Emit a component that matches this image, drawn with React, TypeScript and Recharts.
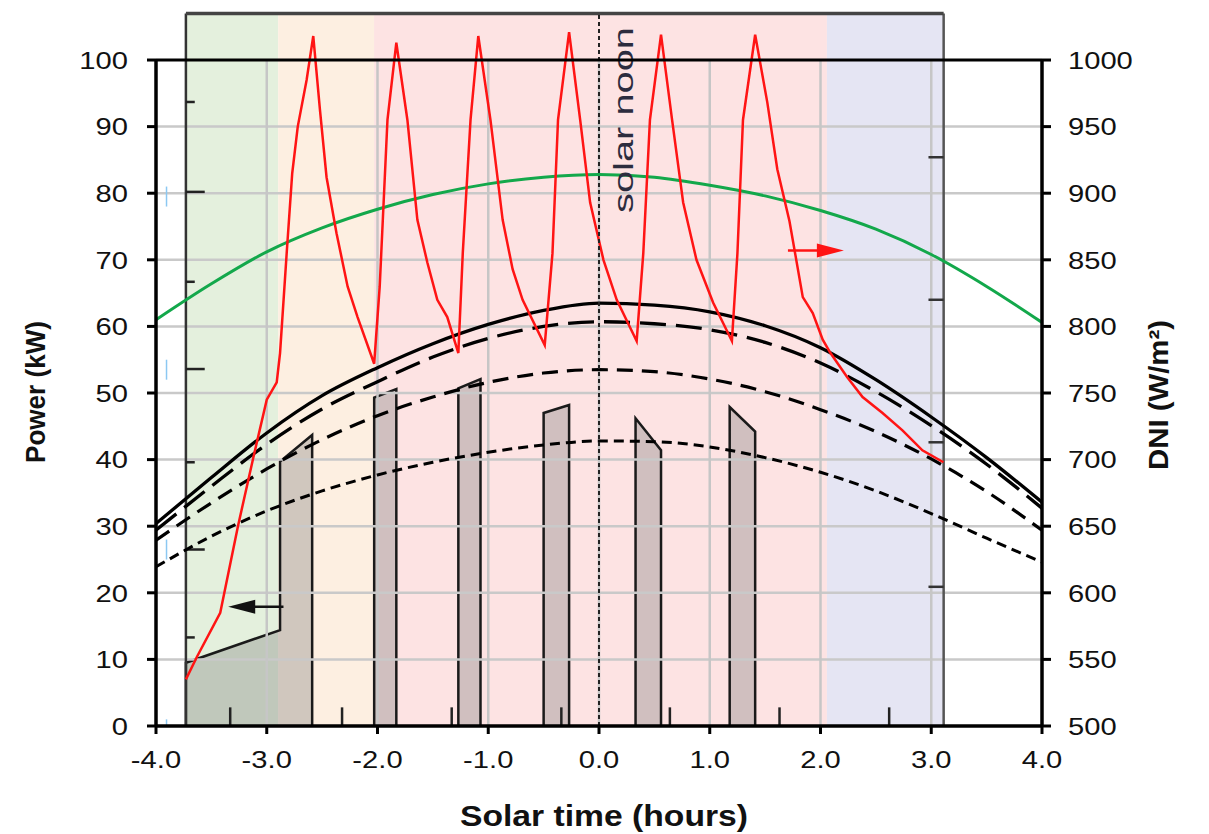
import React from "react";
import {
  ComposedChart,
  Line,
  Area,
  XAxis,
  YAxis,
  ReferenceArea,
  ReferenceLine,
  ReferenceDot,
} from "recharts";

const FONT = "'Liberation Sans', Arial, Helvetica, sans-serif";

// axis ticks
const hourTicks = [-4, -3, -2, -1, 0, 1, 2, 3, 4];
const kwTicks = [0, 10, 20, 30, 40, 50, 60, 70, 80, 90, 100];
const dniTicks = [500, 550, 600, 650, 700, 750, 800, 850, 900, 950, 1000];

// modelled power curves (kW), every half hour
const curveHours = [-4, -3.5, -3, -2.5, -2, -1.5, -1, -0.5, 0, 0.5, 1, 1.5, 2, 2.5, 3, 3.5, 4];
const powerSolid = [30.4, 37.3, 44.0, 49.6, 53.8, 57.4, 60.3, 62.4, 63.5, 63.2, 62.2, 60.1, 56.8, 52.0, 46.4, 40.3, 33.6];
const powerLongDash = [29.4, 36.0, 42.3, 47.6, 51.7, 55.4, 58.2, 60.0, 60.7, 60.4, 59.5, 57.6, 54.5, 50.2, 45.1, 39.3, 32.7];
const powerMidDash = [27.9, 33.5, 38.6, 43.0, 46.6, 49.4, 51.6, 53.0, 53.5, 53.2, 52.1, 50.2, 47.5, 44.2, 40.1, 35.2, 29.4];
const powerShortDash = [23.9, 28.5, 32.3, 35.3, 37.7, 39.6, 41.1, 42.2, 42.8, 42.7, 41.9, 40.3, 38.1, 35.3, 31.9, 28.2, 24.6];

// clear sky DNI (green)
const clearDni = [805, 832, 856, 874, 888, 899, 907, 912, 914, 912, 906, 898, 887, 873, 854, 830, 803];

// measured DNI (red)
const dniHours = [
  -3.73, -3.63, -3.42, -3.26, -3.12, -3.0, -2.91, -2.88, -2.82, -2.77, -2.72, -2.64, -2.58, -2.52, -2.46, -2.37, -2.27, -2.18, -2.03,
  -1.98, -1.91, -1.83, -1.73, -1.64, -1.55, -1.46, -1.37, -1.27, -1.23, -1.16, -1.09, -0.98, -0.87, -0.78, -0.69, -0.49,
  -0.42, -0.37, -0.27, -0.17, -0.08, 0.04, 0.16, 0.34, 0.4, 0.46, 0.56, 0.66, 0.76, 0.88, 1.03, 1.2,
  1.25, 1.3, 1.41, 1.52, 1.61, 1.72, 1.84, 1.93, 2.02, 2.09, 2.24, 2.38, 2.56, 2.74, 2.92, 3.11,
];
const dniValues = [
  535, 552, 585, 650, 702, 745, 758, 780, 855, 915, 950, 985, 1018, 963, 912, 870, 830, 807, 772,
  830, 955, 1013, 955, 880, 848, 820, 807, 780, 855, 955, 1018, 955, 880, 843, 820, 786,
  855, 955, 1021, 955, 893, 850, 820, 789, 855, 955, 1019, 955, 893, 850, 818, 789,
  855, 955, 1019, 968, 918, 879, 822, 810, 790, 780, 762, 747, 735, 722, 707, 698,
];

// produced power pulses (corners, hour / kW)
const pulses = [
  { hours: [-3.73, -3.73, -2.88, -2.88, -2.59, -2.59], kw: [0, 9.5, 14.4, 39.7, 43.7, 0] },
  { hours: [-2.03, -2.03, -1.83, -1.83], kw: [0, 49.3, 50.6, 0] },
  { hours: [-1.27, -1.27, -1.07, -1.07], kw: [0, 50.7, 52.1, 0] },
  { hours: [-0.5, -0.5, -0.27, -0.27], kw: [0, 47.0, 48.2, 0] },
  { hours: [0.33, 0.33, 0.56, 0.56], kw: [0, 46.2, 41.4, 0] },
  { hours: [1.18, 1.18, 1.41, 1.41], kw: [0, 47.9, 44.2, 0] },
];

// background bands of the inner picture
const bandFrom = [-3.73, -2.897, -2.031, 2.058];
const bandTo = [-2.897, -2.031, 2.058, 3.112];
const bandColors = ["#e4f0dd", "#fdefe1", "#fde3e3", "#e5e5f3"];

// inner picture ticks
const innerLeftKw = [93.7, 80.2, 66.7, 53.6, 39.6, 26.5, 13.3];
const innerBottomHours = [-3.33, -2.32, -1.33, -0.34, 0.64, 1.63, 2.62];
const innerRightKw = [85.4, 64.0, 42.6, 20.9];
const blueMarks = [[78, 81], [52, 55], [25, 28], [0, 1]];

const zip = (xs: number[], ys: number[], key: string) => xs.map((t, i) => ({ t, [key]: ys[i] }));

const CW: Record<string, number> = { "-": 0.333, ".": 0.278 };
const textWidth = (s: string) => s.split("").reduce((a, c) => a + (CW[c] ?? 0.556), 0);
const TICK_FS = 24.5;

const makeTick = (fmt: (v: number) => string, dy: string) => (props: any) => {
  const { x, y, payload, textAnchor } = props;
  const s = fmt(payload.value);
  return (
    <text
      x={x}
      y={y}
      dy={dy}
      textAnchor={textAnchor}
      fontFamily={FONT}
      fontSize={TICK_FS}
      fill="#111"
      textLength={textWidth(s) * TICK_FS * 1.19}
      lengthAdjust="spacingAndGlyphs"
    >
      {s}
    </text>
  );
};

const xTick = makeTick((v) => v.toFixed(1), "0.72em");
const yTick = makeTick((v) => String(v), "0.36em");

const arrowHead = (dir: number, color: string) => (p: any) => {
  const { cx, cy } = p;
  return (
    <polygon
      points={`${cx},${cy} ${cx - dir * 27},${cy - 7} ${cx - dir * 27},${cy + 7}`}
      fill={color}
    />
  );
};

const XTitle = () => (
  <text x={604} y={826} textAnchor="middle" fontFamily={FONT} fontWeight="bold" fontSize={30} fill="#111"
    textLength={288} lengthAdjust="spacingAndGlyphs">
    Solar time (hours)
  </text>
);
const KwTitle = () => (
  <text x={45} y={392} transform="rotate(-90 45 392)" textAnchor="middle" fontFamily={FONT} fontWeight="bold"
    fontSize={27} fill="#111" textLength={142} lengthAdjust="spacingAndGlyphs">
    Power (kW)
  </text>
);
const DniTitle = () => (
  <text x={1168} y={395} transform="rotate(-90 1168 395)" textAnchor="middle" fontFamily={FONT} fontWeight="bold"
    fontSize={27} fill="#111" textLength={150} lengthAdjust="spacingAndGlyphs">
    DNI (W/m²)
  </text>
);
const NoonText = (p: any) => {
  const x = (p.viewBox?.x ?? 599) + 34;
  return (
    <text x={x} y={120} transform={`rotate(-90 ${x} 120)`} textAnchor="middle" fontFamily={FONT}
      fontSize={28} fill="#2c2c3e" textLength={186} lengthAdjust="spacingAndGlyphs">
      solar noon
    </text>
  );
};

const curves = [
  { key: "solid", values: powerSolid, dash: undefined, width: 3.3 },
  { key: "long", values: powerLongDash, dash: "26 10", width: 3.3 },
  { key: "mid", values: powerMidDash, dash: "16 9", width: 3.2 },
  { key: "short", values: powerShortDash, dash: "10 6", width: 3 },
];

export default function App() {
  return (
    <div style={{ position: "absolute", left: 0, top: 0, width: 1209, height: 834, background: "#fff" }}>
      <ComposedChart width={1209} height={834} margin={{ top: 13.4, right: 0, bottom: 8, left: 0 }}>
        {bandFrom.map((x1, i) => (
          <ReferenceArea key={`band${i}`} yAxisId="kw" x1={x1} x2={bandTo[i]} y1={0} y2={107}
            fill={bandColors[i]} fillOpacity={1} stroke="none" zIndex={-300} />
        ))}

        {pulses.map((p, i) => (
          <Area key={`pulse${i}`} yAxisId="kw" data={zip(p.hours, p.kw, "kw")} dataKey="kw" type="linear"
            fill="#777777" fillOpacity={0.33} stroke="#1a1a1a" strokeWidth={2.5} dot={false} activeDot={false}
            isAnimationActive={false} zIndex={-200} />
        ))}

        {/* grid, only inside the 0..100 frame */}
        {kwTicks.slice(1, -1).map((k) => (
          <ReferenceLine key={`hg${k}`} yAxisId="kw" segment={[{ x: -4, y: k }, { x: 4, y: k }]}
            stroke="#c9c9c9" strokeWidth={2.5} zIndex={-100} />
        ))}
        {hourTicks.slice(1, -1).map((t) => (
          <ReferenceLine key={`vg${t}`} yAxisId="kw" segment={[{ x: t, y: 0 }, { x: t, y: 100 }]}
            stroke="#c6c6c6" strokeWidth={2.5} zIndex={-100} />
        ))}

        {/* inner picture frame and ticks */}
        <ReferenceLine yAxisId="kw" segment={[{ x: -3.73, y: 0 }, { x: -3.73, y: 107 }]} stroke="#333" strokeWidth={2.5} zIndex={50} />
        <ReferenceLine yAxisId="kw" segment={[{ x: 3.112, y: 0 }, { x: 3.112, y: 107 }]} stroke="#555" strokeWidth={2.5} zIndex={50} />
        <ReferenceLine yAxisId="kw" segment={[{ x: -3.73, y: 107 }, { x: 3.112, y: 107 }]} stroke="#444" strokeWidth={3.5} zIndex={50} />
        {innerLeftKw.map((k, i) => (
          <ReferenceLine key={`il${k}`} yAxisId="kw" segment={[{ x: -3.73, y: k }, { x: i % 2 ? -3.56 : -3.65, y: k }]}
            stroke="#222" strokeWidth={2.5} zIndex={50} />
        ))}
        {innerBottomHours.map((t) => (
          <ReferenceLine key={`ib${t}`} yAxisId="kw" segment={[{ x: t, y: 0 }, { x: t, y: 2.8 }]}
            stroke="#222" strokeWidth={2.5} zIndex={50} />
        ))}
        {innerRightKw.map((k) => (
          <ReferenceLine key={`ir${k}`} yAxisId="kw" segment={[{ x: 2.975, y: k }, { x: 3.112, y: k }]}
            stroke="#333" strokeWidth={2.5} zIndex={50} />
        ))}
        {blueMarks.map(([a, b]) => (
          <ReferenceLine key={`bm${a}`} yAxisId="kw" segment={[{ x: -3.905, y: a }, { x: -3.905, y: b }]}
            stroke="#8cc8f2" strokeWidth={1.5} zIndex={50} />
        ))}

        <ReferenceLine yAxisId="kw" x={0} stroke="#222" strokeWidth={2} strokeDasharray="4 3" zIndex={450}
          label={{ content: NoonText }} />

        {curves.map((c) => (
          <Line key={c.key} yAxisId="kw" data={zip(curveHours, c.values, "kw")} dataKey="kw" type="monotone"
            stroke="#000" strokeWidth={c.width} strokeDasharray={c.dash} dot={false} activeDot={false}
            isAnimationActive={false} zIndex={400} />
        ))}
        <Line yAxisId="dni" data={zip(curveHours, clearDni, "dni")} dataKey="dni" type="monotone"
          stroke="#13a84b" strokeWidth={3} dot={false} activeDot={false} isAnimationActive={false} zIndex={400} />
        <Line yAxisId="dni" data={zip(dniHours, dniValues, "dni")} dataKey="dni" type="linear"
          stroke="#ff1414" strokeWidth={2.5} dot={false} activeDot={false} isAnimationActive={false} zIndex={410} />

        {/* plot frame */}
        <ReferenceLine yAxisId="kw" segment={[{ x: -4, y: 100 }, { x: 4, y: 100 }]} stroke="#000" strokeWidth={3} zIndex={450} />
        <ReferenceLine yAxisId="kw" segment={[{ x: -4, y: 0 }, { x: -4, y: 100 }]} stroke="#000" strokeWidth={3.5} zIndex={450} />
        <ReferenceLine yAxisId="kw" segment={[{ x: 4, y: 0 }, { x: 4, y: 100 }]} stroke="#000" strokeWidth={3.5} zIndex={450} />

        {/* arrows */}
        <ReferenceLine yAxisId="kw" segment={[{ x: -3.2, y: 17.9 }, { x: -2.849, y: 17.9 }]} stroke="#111" strokeWidth={2.5} zIndex={600} />
        <ReferenceDot yAxisId="kw" x={-3.348} y={17.9} r={7} shape={arrowHead(-1, "#111")} zIndex={600} />
        <ReferenceLine yAxisId="kw" segment={[{ x: 1.706, y: 71.4 }, { x: 2.0, y: 71.4 }]} stroke="#ff1414" strokeWidth={2.5} zIndex={600} />
        <ReferenceDot yAxisId="kw" x={2.211} y={71.4} r={7} shape={arrowHead(1, "#ff1414")} zIndex={600} />

        <XAxis type="number" dataKey="t" domain={[-4, 4]} ticks={hourTicks} interval={0} allowDataOverflow
          height={100} tickSize={8} tickMargin={16} tick={xTick}
          axisLine={{ stroke: "#000", strokeWidth: 3.5 }} tickLine={{ stroke: "#000", strokeWidth: 3 }}
          label={{ content: XTitle }} />
        <YAxis yAxisId="kw" orientation="left" width={156} domain={[0, 107]} ticks={kwTicks} interval={0}
          allowDataOverflow axisLine={false} tickSize={9} tickMargin={19} tick={yTick}
          tickLine={{ stroke: "#000", strokeWidth: 3 }} label={{ content: KwTitle }} />
        <YAxis yAxisId="dni" orientation="right" width={167} domain={[500, 1035]} ticks={dniTicks} interval={0}
          allowDataOverflow axisLine={false} tickSize={9} tickMargin={17} tick={yTick}
          tickLine={{ stroke: "#000", strokeWidth: 3 }} label={{ content: DniTitle }} />
      </ComposedChart>
    </div>
  );
}
